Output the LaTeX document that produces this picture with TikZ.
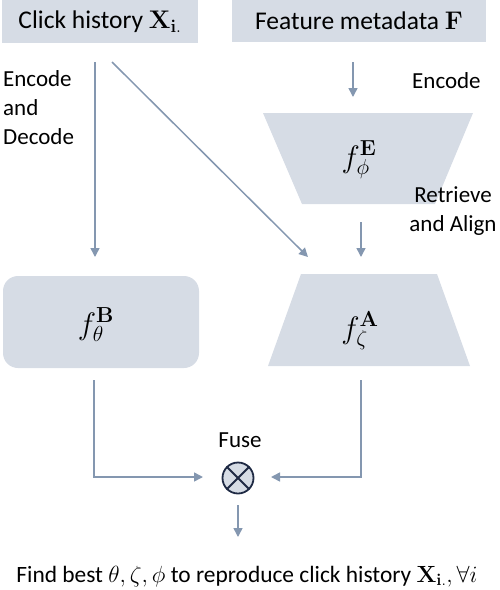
\RequirePackage{fix-cm}
\documentclass[tikz,border=0pt]{standalone}
\usepackage[no-math]{fontspec}
\setmainfont{Carlito}
\usetikzlibrary{arrows.meta}
\definecolor{boxfill}{HTML}{D6DCE5}
\definecolor{arrc}{HTML}{8497B0}
\definecolor{navyc}{HTML}{1F2A44}
\begin{document}
\begin{tikzpicture}[x=1pt,y=-1pt,
  every node/.style={font=\fontsize{23}{29}\selectfont, inner sep=0pt},
  box/.style={fill=boxfill, font=\fontsize{25.5}{30}\selectfont},
  arr/.style={draw=arrc, line width=1.5pt, -{Triangle[length=9pt,width=9pt]}},
  lbl/.style={anchor=base west},
  fnode/.style={font=\fontsize{31}{36}\selectfont}]
\useasboundingbox (0,0) rectangle (500,590);
% top boxes
\node[box, minimum width=196pt, minimum height=43pt] (click) at (100,21.5) {Click history $\mathbf{X}_{\mathbf{i}.}$};
\node[box, minimum width=254pt, minimum height=42pt] (feat) at (359,21) {Feature metadata $\mathbf{F}$};
% encoder trapezoid
\fill[boxfill] (263,113) -- (473,113) -- (435,204) -- (302,204) -- cycle;
\node[fnode] (E) at (359,160) {$f^{\mathbf{E}}_{\phi}$};
% aligner trapezoid
\fill[boxfill] (301,274) -- (437,274) -- (470,366) -- (268,366) -- cycle;
\node[fnode] (A) at (360,331) {$f^{\mathbf{A}}_{\zeta}$};
% base box
\fill[boxfill, rounded corners=15pt] (3,276) rectangle (199,368);
\node[fnode] (B) at (96,325) {$f^{\mathbf{B}}_{\theta}$};
% fuse
\node[circle, draw=navyc, line width=1.8pt, fill=boxfill, minimum size=31pt] (fuse) at (238,478) {};
\draw[navyc, line width=1.8pt] (fuse.north east) -- (fuse.south west) (fuse.north west) -- (fuse.south east);
\node[anchor=base] (fuselbl) at (240,447) {Fuse};
% coordinates
\coordinate (e1) at (353,62); \coordinate (e2) at (353,97);
\coordinate (r1) at (361,222); \coordinate (r2) at (361,257);
\coordinate (l1) at (95,62); \coordinate (l2) at (95,257);
\coordinate (d1) at (112,62); \coordinate (d2) at (308,257);
\coordinate (b1) at (94,380); \coordinate (bc) at (94,477); \coordinate (b2) at (203,477);
\coordinate (a1) at (361,380); \coordinate (ac) at (361,477); \coordinate (a2) at (271,477);
\coordinate (o1) at (238,505); \coordinate (o2) at (238,537);
% arrows
\draw[arr] (e1) -- (e2);
\draw[arr] (r1) -- (r2);
\draw[arr] (l1) -- (l2);
\draw[arr] (d1) -- (d2);
\draw[arr] (b1) -- (bc) -- (b2);
\draw[arr] (a1) -- (ac) -- (a2);
\draw[arr] (o1) -- (o2);
% labels
\node[lbl] (enc) at (412,88) {Encode};
\node[align=center, anchor=base] (ret) at (453,231) {Retrieve\\and Align};
\node[align=left, anchor=base west] (encdec) at (3,144) {Encode\\and\\Decode};
\node[anchor=base, font=\fontsize{23.4}{29}\selectfont] (goal) at (247,582) {Find best $\theta,\zeta,\phi$ to reproduce click history $\mathbf{X}_{\mathbf{i}.}, \forall i$};
\end{tikzpicture}
\end{document}
